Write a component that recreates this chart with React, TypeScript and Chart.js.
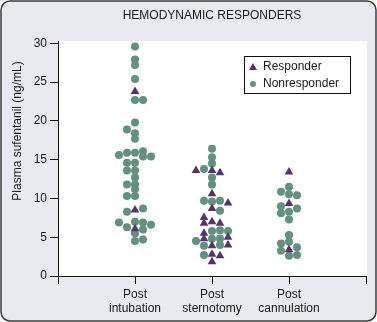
import { useEffect, useRef } from "react";
import { Chart, registerables } from "chart.js";

Chart.register(...registerables);

// ---- data ----
const chartTitle = "HEMODYNAMIC RESPONDERS";
const yAxisTitle = "Plasma sufentanil (ng/mL)";
const categoryLabels = [
  ["Post", "intubation"],
  ["Post", "sternotomy"],
  ["Post", "cannulation"],
];
const seriesNames = ["Responder", "Nonresponder"];

// Post intubation
const intubationResponder = [23.8, 8.5, 6.1];
const intubationResponderJitter = [0, 0, 0];
const intubationNonresponder = [
  29.6, 27.9, 27.2, 25.4, 22.7, 22.7, 19.8, 18.9, 18.4, 17.7, 15.6, 15.9, 15.9,
  16.1, 15.4, 15.4, 14.6, 14.6, 13.6, 13.6, 12.7, 11.8, 11.8, 11.2, 10.3, 10.3,
  8.3, 8.7, 6.9, 6.3, 7.0, 6.9, 6.0, 6.6, 5.5, 4.5, 4.7,
];
const intubationNonresponderJitter = [
  0, 0, 0, 0, 0, 1, 0, -1, 0, 0, -2, -1, 0, 1, 1, 2, -1, 0, -1, 0, 0, -1, 0, 0,
  -1, 0, -1, 1, -2, -1, 0, 1, 1, 2, 0, 0, 1,
];

// Post sternotomy
const sternotomyResponder = [
  13.6, 13.6, 13.3, 10.6, 9.4, 8.7, 7.55, 6.8, 7.0, 6.8, 5.5, 4.8, 5.0, 3.9, 4.0,
  2.8, 2.6, 1.85,
];
const sternotomyResponderJitter = [0, -2, 1, 0, 2, 0, -1, -1, 0, 1, -1, -1, 2, 0, 2, 0, 1, 0];
const sternotomyNonresponder = [
  16.4, 15.3, 14.5, 13.8, 12.7, 11.8, 9.7, 9.6, 9.7, 8.4, 5.8, 5.9, 5.8, 4.5, 4.8,
  4.85, 3.9, 4.0, 2.7,
];
const sternotomyNonresponderJitter = [0, 0, 0, -1, 0, 0, -1, 0, 1, 1, 0, 1, 2, -2, 0, 1, -1, 1, -1];

// Post cannulation
const cannulationResponder = [13.4, 9.35, 3.4];
const cannulationResponderJitter = [0, 0, 0];
const cannulationNonresponder = [
  11.5, 10.85, 10.55, 10.4, 9.0, 8.7, 8.3, 8.1, 7.3, 5.3, 4.4, 4.2, 3.7, 3.25, 2.6, 2.7,
];
const cannulationNonresponderJitter = [0, -1, 0, 1, -1, 1, 0, -1, 0, 0, 0, -1, 1, -1, 0, 1];

// ---- styles ----
const FONT = '"Liberation Sans", Arial, sans-serif';
const TEXT = "#1a1a1a";
const RESP_COLOR = "#55336f";
const NON_COLOR = "#63917f";
const PANEL_BG = "#e7ebef";
const SLOT = 0.104;

function toPoints(cat: number, values: number[], jitter: number[]) {
  return values.map((v, i) => ({ x: cat + jitter[i] * SLOT, y: v }));
}

const responderPoints = [
  ...toPoints(1, intubationResponder, intubationResponderJitter),
  ...toPoints(2, sternotomyResponder, sternotomyResponderJitter),
  ...toPoints(3, cannulationResponder, cannulationResponderJitter),
];
const nonresponderPoints = [
  ...toPoints(1, intubationNonresponder, intubationNonresponderJitter),
  ...toPoints(2, sternotomyNonresponder, sternotomyNonresponderJitter),
  ...toPoints(3, cannulationNonresponder, cannulationNonresponderJitter),
];

const decorPlugin = {
  id: "decor",
  beforeDraw(chart: any) {
    const { ctx, width, height, chartArea } = chart;
    ctx.save();
    ctx.clearRect(0, 0, width, height);
    const r = 9;
    const x0 = 1, y0 = 1, w = width - 2, h = height - 2;
    ctx.beginPath();
    ctx.moveTo(x0 + r, y0);
    ctx.arcTo(x0 + w, y0, x0 + w, y0 + h, r);
    ctx.arcTo(x0 + w, y0 + h, x0, y0 + h, r);
    ctx.arcTo(x0, y0 + h, x0, y0, r);
    ctx.arcTo(x0, y0, x0 + w, y0, r);
    ctx.closePath();
    ctx.fillStyle = PANEL_BG;
    ctx.fill();
    ctx.lineWidth = 1.5;
    ctx.strokeStyle = "#3c3c3c";
    ctx.stroke();
    ctx.fillStyle = "#ffffff";
    ctx.fillRect(chartArea.left, chartArea.top, chartArea.right - chartArea.left + 1, chartArea.bottom - chartArea.top);
    ctx.restore();
  },
  afterDraw(chart: any) {
    const { ctx, chartArea } = chart;
    ctx.save();
    ctx.fillStyle = TEXT;
    ctx.font = `12px ${FONT}`;
    ctx.textAlign = "center";
    ctx.textBaseline = "middle";
    ctx.fillText(chartTitle, (chartArea.left + chartArea.right) / 2, 16);

    // y axis title
    ctx.save();
    ctx.translate(18, 131);
    ctx.rotate(-Math.PI / 2);
    ctx.fillText(yAxisTitle, 0, 0);
    ctx.restore();

    // legend
    const lx = 244.5, ly = 56.5, lw = 106, lh = 37;
    ctx.fillStyle = "#ffffff";
    ctx.fillRect(lx, ly, lw, lh);
    ctx.strokeStyle = "#111";
    ctx.lineWidth = 1;
    ctx.strokeRect(lx, ly, lw, lh);
    // triangle
    const tx = 253, ty = 67;
    ctx.fillStyle = RESP_COLOR;
    ctx.beginPath();
    ctx.moveTo(tx, ty - 4);
    ctx.lineTo(tx + 4, ty + 3);
    ctx.lineTo(tx - 4, ty + 3);
    ctx.closePath();
    ctx.fill();
    // circle
    ctx.fillStyle = NON_COLOR;
    ctx.beginPath();
    ctx.arc(253, 84, 3, 0, Math.PI * 2);
    ctx.fill();
    ctx.fillStyle = TEXT;
    ctx.textAlign = "left";
    ctx.fillText(seriesNames[0], 263, 67);
    ctx.fillText(seriesNames[1], 263, 84);
    ctx.restore();
  },
};

export default function App() {
  const ref = useRef<HTMLCanvasElement | null>(null);
  useEffect(() => {
    if (!ref.current) return;
    Chart.defaults.font.family = FONT;
    const chart = new Chart(ref.current, {
      type: "scatter",
      data: {
        datasets: [
          {
            label: seriesNames[0],
            data: responderPoints,
            pointStyle: "triangle",
            pointRadius: 5,
            backgroundColor: RESP_COLOR,
            borderWidth: 0,
          },
          {
            label: seriesNames[1],
            data: nonresponderPoints,
            pointStyle: "circle",
            pointRadius: 4,
            backgroundColor: NON_COLOR,
            borderWidth: 0,
          },
        ],
      },
      options: {
        responsive: false,
        animation: false,
        events: [],
        layout: { padding: { top: 41, right: 11, left: 0, bottom: 0 } },
        plugins: {
          legend: { display: false },
          title: { display: false },
          tooltip: { enabled: false },
        },
        scales: {
          x: {
            type: "linear",
            min: 0,
            max: 4,
            afterFit: (s: any) => {
              s.height = 46;
            },
            ticks: {
              stepSize: 1,
              autoSkip: false,
              maxRotation: 0,
              color: TEXT,
              font: { size: 12, family: FONT },
              padding: 3,
              callback: (v: any) => categoryLabels[Number(v) - 1] ?? "",
            },
            grid: { drawOnChartArea: false, drawTicks: true, tickLength: 8, color: "#111" },
            border: { display: true, color: "#111", width: 1 },
          },
          y: {
            type: "linear",
            min: 0,
            max: 30.3,
            afterFit: (s: any) => {
              s.width = 58;
            },
            ticks: {
              stepSize: 5,
              includeBounds: false,
              color: TEXT,
              font: { size: 12, family: FONT },
              padding: 3,
            },
            grid: { drawOnChartArea: false, drawTicks: true, tickLength: 8, color: "#111" },
            border: { display: true, color: "#111", width: 1 },
          },
        },
      },
      plugins: [decorPlugin],
    } as any);
    return () => chart.destroy();
  }, []);
  return (
    <canvas
      ref={ref}
      width={377}
      height={322}
      style={{ position: "absolute", left: 0, top: 0, width: 377, height: 322 }}
    />
  );
}
